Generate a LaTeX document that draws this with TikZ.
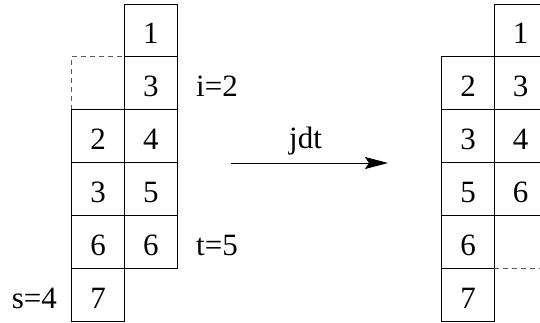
\documentclass[tikz,border=0pt]{standalone}
\usepackage{fontspec}
\setmainfont{Liberation Serif}
\usetikzlibrary{arrows.meta}
\tikzset{
  cell/.style={draw, line width=0.8pt, minimum width=52.8pt, minimum height=52.8pt, inner sep=0pt,
    text height=27pt, text depth=0pt, font=\fontsize{31}{37}\selectfont},
  lbl/.style={inner sep=0pt, font=\fontsize{31}{37}\selectfont},
  dsh/.style={dashed, dash pattern=on 5pt off 4pt, line width=0.8pt, gray!70!black},
}
\begin{document}
\begin{tikzpicture}[x=1pt,y=-1pt]
\useasboundingbox (0,0) rectangle (540,322);
\clip (0,0) rectangle (540,322);
% left diagram, right column
\node[cell] (a1) at (150.8,30.4) {1};
\node[cell] (a3) at (150.8,83) {3};
\node[cell] (a4) at (150.8,136) {4};
\node[cell] (a5) at (150.8,189) {5};
\node[cell] (a6) at (150.8,241.8) {6};
% left diagram, left column
\node[minimum width=52.8pt, minimum height=52.8pt, inner sep=0pt] (ae) at (98,83) {};
\draw[dsh] (ae.south west) -- (ae.north west) -- (ae.north east);
\node[cell] (b2) at (98,136) {2};
\node[cell] (b3) at (98,189) {3};
\node[cell] (b6) at (98,241.8) {6};
\node[cell] (b7) at (98,294.5) {7};
% labels
\node[lbl, anchor=base west] (li) at (196,96.5) {i=2};
\node[lbl, anchor=base west] (lt) at (196,255.3) {t=5};
\node[lbl, anchor=base east] (ls) at (57,308) {s=4};
% arrow
\coordinate (p) at (231,163);
\coordinate (q) at (388,163);
\draw[line width=0.8pt, -{Stealth[length=23pt,width=12pt,inset=4pt]}] (p) -- (q) node[midway, lbl, anchor=base, xshift=-4pt, yshift=15pt] (jdt) {jdt};
% right diagram, left column
\node[cell] (c2) at (468,83) {2};
\node[cell] (c3) at (468,136) {3};
\node[cell] (c5) at (468,189) {5};
\node[cell] (c6) at (468,241.8) {6};
\node[cell] (c7) at (468,294.5) {7};
% right diagram, right column
\node[cell] (d1) at (520.6,30.4) {1};
\node[cell] (d3) at (520.6,83) {3};
\node[cell] (d4) at (520.6,136) {4};
\node[cell] (d6) at (520.6,189) {6};
\node[minimum width=52.8pt, minimum height=52.8pt, inner sep=0pt] (de) at (520.6,241.8) {};
\draw[dsh] (de.south west) -- (de.south east);
\end{tikzpicture}
\end{document}
